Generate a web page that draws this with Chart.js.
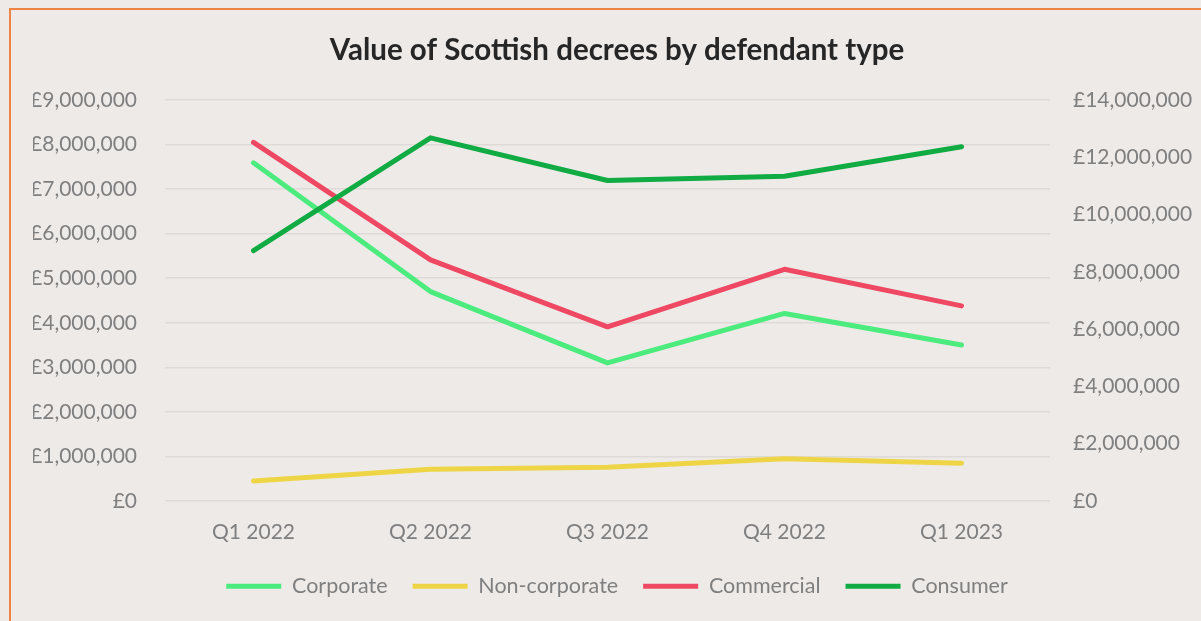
<!DOCTYPE html>
<html>
<head>
<meta charset="utf-8">
<title>Value of Scottish decrees by defendant type</title>
<script src="https://cdn.jsdelivr.net/npm/chart.js@4/dist/chart.umd.min.js"></script>
<style>
  html, body { margin: 0; padding: 0; background: #eeeae8; }
  #wrap { width: 1201px; height: 621px; }
</style>
</head>
<body>
<div id="wrap"><canvas id="myChart" width="1201" height="621"></canvas></div>
<script>
/* globals Chart:false */

// Data
const quarters = ['Q1 2022', 'Q2 2022', 'Q3 2022', 'Q4 2022', 'Q1 2023'];
const corporate = [7590000, 4700000, 3100000, 4210000, 3500000];
const nonCorporate = [450000, 710000, 760000, 950000, 850000];
const commercial = [8050000, 5410000, 3910000, 5200000, 4380000];
const consumer = [8740000, 12680000, 11190000, 11340000, 12370000];

const leftMax = 9000000;
const rightMax = 14000000;

(() => {
  'use strict'

  const tickColor = '#7f7f7f'
  const fontFamily = 'Lato, "Open Sans", sans-serif'

  const pounds = (v) => '£' + Number(v).toLocaleString('en-GB')

  // background + orange frame
  const frame = {
    id: 'frame',
    beforeDraw (chart) {
      const c = chart.ctx
      c.save()
      c.fillStyle = '#eeeae8'
      c.fillRect(0, 0, chart.width, chart.height)
      c.strokeStyle = '#ee8443'
      c.lineWidth = 2
      c.strokeRect(10, 9, chart.width + 40, chart.height + 40)
      c.restore()
    }
  }

  const series = (label, data, color, axis, order) => ({
    label,
    data,
    yAxisID: axis,
    order,
    borderColor: color,
    backgroundColor: color,
    borderWidth: 5,
    borderCapStyle: 'round',
    borderJoinStyle: 'round',
    pointRadius: 0,
    pointHoverRadius: 0,
    tension: 0,
    fill: false
  })

  const ctx = document.getElementById('myChart')
  // eslint-disable-next-line no-unused-vars
  const myChart = new Chart(ctx, {
    type: 'line',
    data: {
      labels: quarters,
      datasets: [
        series('Corporate', corporate, '#4bec7d', 'y', 3),
        series('Non-corporate', nonCorporate, '#eed546', 'y', 2),
        series('Commercial', commercial, '#ef4862', 'y', 1),
        series('Consumer', consumer, '#10ab42', 'y1', 0)
      ]
    },
    plugins: [frame],
    options: {
      responsive: false,
      animation: false,
      layout: { padding: { left: 33, right: 0, top: 0, bottom: 14 } },
      scales: {
        x: {
          offset: true,
          grid: { display: false, drawTicks: false },
          border: { display: false },
          ticks: { color: tickColor, font: { family: fontFamily, size: 21 }, padding: 19, maxRotation: 0 },
          afterFit: (s) => { s.height = 49.5 }
        },
        y: {
          position: 'left',
          min: 0,
          max: leftMax,
          grid: { color: '#dedad8', lineWidth: 1.5, drawTicks: false },
          border: { display: false },
          ticks: { stepSize: 1000000, color: tickColor, font: { family: fontFamily, size: 21 }, padding: 28, callback: pounds },
          afterFit: (s) => { s.width = 132 }
        },
        y1: {
          position: 'right',
          min: 0,
          max: rightMax,
          grid: { display: false, drawTicks: false },
          border: { display: false },
          ticks: { stepSize: 2000000, color: tickColor, font: { family: fontFamily, size: 21 }, padding: 23, callback: pounds },
          afterFit: (s) => { s.width = 151 }
        }
      },
      plugins: {
        title: {
          display: true,
          text: 'Value of Scottish decrees by defendant type',
          color: '#262626',
          font: { family: fontFamily, size: 29.5, weight: 'bold', lineHeight: 1.2 },
          padding: { top: 33, bottom: 31.6 }
        },
        legend: {
          position: 'bottom',
          labels: {
            usePointStyle: true,
            pointStyle: 'line',
            pointStyleWidth: 55,
            padding: 25,
            color: tickColor,
            font: { family: fontFamily, size: 21.5 },
            sort: (a, b) => a.datasetIndex - b.datasetIndex
          }
        },
        tooltip: { enabled: false }
      }
    }
  })
})()
</script>
</body>
</html>
